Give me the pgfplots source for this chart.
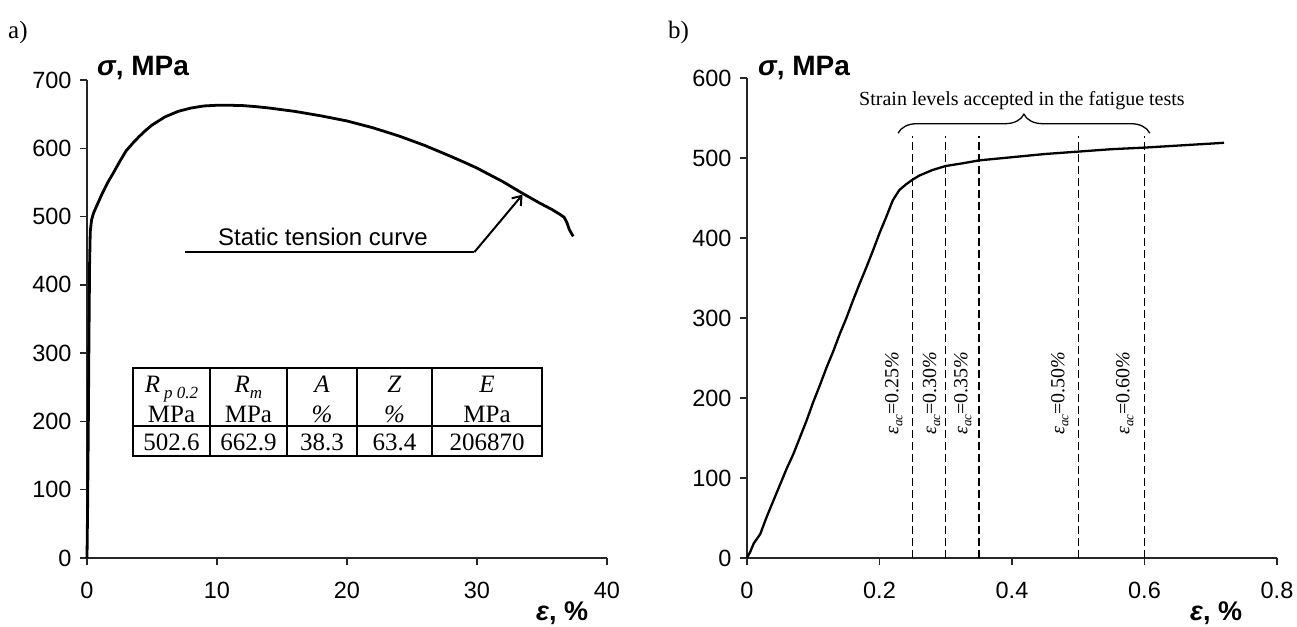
\documentclass[border=0pt]{standalone}
\usepackage{fontspec}
\setmainfont{Liberation Serif}
\newfontfamily\arial{Liberation Sans}
\usepackage{pgfplots}
\pgfplotsset{compat=1.18}
\usetikzlibrary{decorations.pathreplacing,arrows.meta}

\pgfplotstableread{
x y
0 0
0.05 80
0.1 190
0.15 320
0.2 430
0.25 478
0.35 495
0.5 505
0.8 518
1.2 535
1.6 550
2 563
2.5 580
3 596
3.5 607
4 617
4.5 626
5 634
6 646
7 654
8 659
9 662
10 663
11 663
12 662.5
13 661
14 659
15 656.5
16 654
18 647.5
20 640
22 630
24 618
26 604
28 588
29.2 578
30 571
31 561
32 551
33.5 534
34.8 520
35.8 510
36.4 503
36.7 499
36.9 492
37.1 481
37.4 471
}\curveA

\pgfplotstableread{
x y
0 0
0.005 8
0.01 18
0.02 30
0.03 52
0.04 72
0.05 92
0.06 112
0.07 130
0.08 151
0.09 172
0.10 195
0.11 216
0.12 238
0.13 258
0.14 280
0.15 300
0.16 322
0.17 343
0.18 363
0.19 384
0.20 406
0.21 426
0.22 447
0.23 460
0.24 467
0.25 473
0.26 478
0.28 485
0.30 490
0.33 494
0.35 497
0.40 501
0.45 505
0.50 508
0.55 511
0.60 513
0.65 515.5
0.70 518
0.72 519
}\curveB

\newcommand\tfont{\fontsize{25}{25}\selectfont}
\newcommand\eac[1]{\textit{ε}\raisebox{-0.2em}{\fontsize{13}{13}\selectfont\textit{ac}}=#1\textit{\%}}

\begin{document}
\begin{tikzpicture}
\useasboundingbox (0,0) rectangle (1297pt,626pt);
\pgfplotsset{
 myaxis/.style={
  scale only axis, anchor=south west,
  axis x line=bottom, axis y line=left,
  axis line style={-, line width=1.3pt, black!85},
  tick align=outside, major tick length=7pt,
  tick style={line width=1.3pt, black!85},
  ticklabel style={font=\arial\fontsize{23.5}{23.5}\selectfont},
  xticklabel style={yshift=-14pt},
  yticklabel style={xshift=-5pt},
  /pgf/number format/assume math mode=true,
  clip=false,
 }}
% ---------- panel a ----------
\begin{axis}[myaxis, at={(87pt,68pt)}, width=520pt, height=478pt,
  xmin=0, xmax=40, ymin=0, ymax=700,
  xtick={0,10,20,30,40}, ytick={0,100,...,700}]
\addplot[line width=2.8pt, black, line join=round] table {\curveA};
% table
\draw[line width=2pt] (axis cs:3.54,149.4) rectangle (axis cs:35,278.2);
\draw[line width=2pt] (axis cs:3.54,193.3) -- (axis cs:35,193.3);
\draw[line width=2pt] (axis cs:9.46,149.4) -- (axis cs:9.46,278.2);
\draw[line width=2pt] (axis cs:15.38,149.4) -- (axis cs:15.38,278.2);
\draw[line width=2pt] (axis cs:20.77,149.4) -- (axis cs:20.77,278.2);
\draw[line width=2pt] (axis cs:26.54,149.4) -- (axis cs:26.54,278.2);
\node[anchor=base, inner sep=0, font=\tfont] at (axis cs:6.5,243) {\textit{R}\,\raisebox{-0.25em}{\fontsize{17}{17}\selectfont\textit{p 0.2}}};
\node[anchor=base, inner sep=0, font=\tfont] at (axis cs:12.42,243) {\textit{R}\raisebox{-0.25em}{\fontsize{17}{17}\selectfont\textit{m}}};
\node[anchor=base, inner sep=0, font=\tfont] at (axis cs:18.08,243) {\textit{A}};
\node[anchor=base, inner sep=0, font=\tfont] at (axis cs:23.65,243) {\textit{Z}};
\node[anchor=base, inner sep=0, font=\tfont] at (axis cs:30.77,243) {\textit{E}};
\node[anchor=base, inner sep=0, font=\tfont] at (axis cs:6.5,199) {MPa};
\node[anchor=base, inner sep=0, font=\tfont] at (axis cs:12.42,199) {MPa};
\node[anchor=base, inner sep=0, font=\tfont] at (axis cs:18.08,199) {\textit{\%}};
\node[anchor=base, inner sep=0, font=\tfont] at (axis cs:23.65,199) {\textit{\%}};
\node[anchor=base, inner sep=0, font=\tfont] at (axis cs:30.77,199) {MPa};
\node[anchor=base, inner sep=0, font=\tfont] at (axis cs:6.5,158) {502.6};
\node[anchor=base, inner sep=0, font=\tfont] at (axis cs:12.42,158) {662.9};
\node[anchor=base, inner sep=0, font=\tfont] at (axis cs:18.08,158) {38.3};
\node[anchor=base, inner sep=0, font=\tfont] at (axis cs:23.65,158) {63.4};
\node[anchor=base, inner sep=0, font=\tfont] at (axis cs:30.77,158) {206870};
% annotation
\node[anchor=base west, inner sep=0, font=\arial\fontsize{24}{24}\selectfont] at (axis cs:10.08,458) {Static tension curve};
\draw[line width=1.3pt] (axis cs:7.5,448) -- (axis cs:29.8,448);
\draw[line width=2pt, -{Straight Barb[length=8pt,width=12pt]}] (axis cs:29.8,448) -- (axis cs:33.5,532);
\end{axis}
% ---------- panel b ----------
\begin{axis}[myaxis, at={(747pt,68pt)}, width=530pt, height=480pt,
  xmin=0, xmax=0.8, ymin=0, ymax=600,
  xtick={0,0.2,0.4,0.6,0.8}, ytick={0,100,...,600},
  xticklabel style={/pgf/number format/fixed}]
\addplot[line width=2.3pt, black, line join=round] table {\curveB};
\draw[line width=1.4pt, dash pattern=on 8pt off 4pt] (axis cs:0.25,0) -- (axis cs:0.25,527);
\draw[line width=1.4pt, dash pattern=on 8pt off 4pt] (axis cs:0.30,0) -- (axis cs:0.30,527);
\draw[line width=1.4pt, dash pattern=on 8pt off 4pt] (axis cs:0.35,0) -- (axis cs:0.35,527);
\draw[line width=1.4pt, dash pattern=on 8pt off 4pt] (axis cs:0.50,0) -- (axis cs:0.50,527);
\draw[line width=1.4pt, dash pattern=on 8pt off 4pt] (axis cs:0.60,0) -- (axis cs:0.60,527);
\draw[line width=1.3pt, decorate, decoration={brace, amplitude=19pt}] (axis cs:0.228,531) -- (axis cs:0.608,531);
\node[anchor=base, inner sep=0, font=\fontsize{20}{20}\selectfont] at (axis cs:0.415,566) {Strain levels accepted in the fatigue tests};
\node[rotate=90, inner sep=0, font=\fontsize{20}{20}\selectfont] at (axis cs:0.2217,206) {\eac{0.25}};
\node[rotate=90, inner sep=0, font=\fontsize{20}{20}\selectfont] at (axis cs:0.2786,206) {\eac{0.30}};
\node[rotate=90, inner sep=0, font=\fontsize{20}{20}\selectfont] at (axis cs:0.3258,206) {\eac{0.35}};
\node[rotate=90, inner sep=0, font=\fontsize{20}{20}\selectfont] at (axis cs:0.4721,206) {\eac{0.50}};
\node[rotate=90, inner sep=0, font=\fontsize{20}{20}\selectfont] at (axis cs:0.5701,206) {\eac{0.60}};
\end{axis}
% ---------- outer labels ----------
\node[anchor=base west, inner sep=0, font=\fontsize{25}{25}\selectfont] at (8pt,587pt) {a)};
\node[anchor=base west, inner sep=0, font=\fontsize{25}{25}\selectfont] at (668pt,587pt) {b)};
\node[anchor=base west, inner sep=0, font=\arial\bfseries\fontsize{28}{28}\selectfont] at (97pt,550pt) {\textit{σ}, MPa};
\node[anchor=base west, inner sep=0, font=\arial\bfseries\fontsize{28}{28}\selectfont] at (758pt,550pt) {\textit{σ}, MPa};
\node[anchor=base west, inner sep=0, font=\arial\bfseries\fontsize{27}{27}\selectfont] at (536pt,6pt) {\textit{ε}, \%};
\node[anchor=base west, inner sep=0, font=\arial\bfseries\fontsize{27}{27}\selectfont] at (1190pt,6pt) {\textit{ε}, \%};
\end{tikzpicture}
\end{document}
